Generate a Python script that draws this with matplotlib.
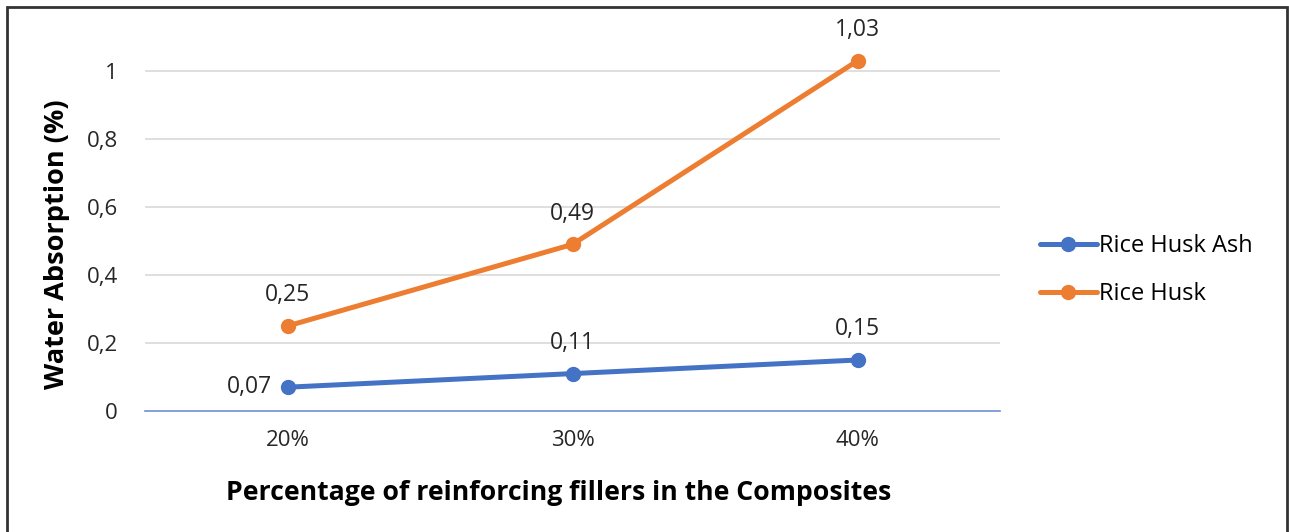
import numpy as np
import matplotlib
matplotlib.use("Agg")
from matplotlib import pyplot as plt
from matplotlib.patches import Rectangle

# data
categories = ["20%", "30%", "40%"]
rice_husk_ash = [0.07, 0.11, 0.15]
rice_husk = [0.25, 0.49, 1.03]
y_ticks = [0, 0.2, 0.4, 0.6, 0.8, 1.0]
y_tick_labels = ["0", "0,2", "0,4", "0,6", "0,8", "1"]

plt.rcParams['font.family'] = ['Open Sans', 'DejaVu Sans']

blue = '#4472C4'
orange = '#ED7D31'
txt = '#262626'

fig = plt.figure(figsize=(12.89, 5.32), dpi=100)
ax = fig.add_axes([145/1289, 1 - 411/532, 855/1289, 340/532 * 1.05])

x = np.arange(len(categories))
ax.plot(x, rice_husk_ash, color=blue, lw=3.6, marker='o', ms=10,
        solid_capstyle='round', label='Rice Husk Ash', clip_on=False, zorder=3)
ax.plot(x, rice_husk, color=orange, lw=3.6, marker='o', ms=10,
        solid_capstyle='round', label='Rice Husk', clip_on=False, zorder=3)

def fmt(v):
    return ("%.2f" % v).replace('.', ',')

for i, v in enumerate(rice_husk):
    ax.annotate(fmt(v), (x[i], v), xytext=(0, 22), textcoords='offset points',
                ha='center', va='center', fontsize=16.5, color=txt)
for i, v in enumerate(rice_husk_ash):
    if i == 0:
        ax.annotate(fmt(v), (x[i], v), xytext=(-11, 0), textcoords='offset points',
                    ha='right', va='center', fontsize=16.5, color=txt)
    else:
        ax.annotate(fmt(v), (x[i], v), xytext=(0, 22), textcoords='offset points',
                    ha='center', va='center', fontsize=16.5, color=txt)

ax.set_xlim(-0.5, 2.5)
ax.set_ylim(0, 1.05)
ax.set_xticks(x)
ax.set_xticklabels(categories, fontsize=16, color=txt)
ax.set_yticks(y_ticks)
ax.set_yticklabels(y_tick_labels, fontsize=16, color=txt)
ax.tick_params(length=0)
ax.tick_params(axis='x', pad=14)
ax.tick_params(axis='y', pad=19.5)
for yv in y_ticks[1:]:
    ax.axhline(yv, color='#D9D9D9', lw=1.2, zorder=1)
for s in ['top', 'right', 'left']:
    ax.spines[s].set_visible(False)
ax.spines['bottom'].set_color('#6f8fd0')
ax.spines['bottom'].set_linewidth(1.2)

ax.set_xlabel('Percentage of reinforcing fillers in the Composites',
              fontsize=19.2, fontweight='bold', va='center')
ax.xaxis.set_label_coords((559 - 145) / 855, (411 - 493) / 357)
ax.set_ylabel('Water Absorption (%)', fontsize=19.5, fontweight='bold', va='center')
ax.yaxis.set_label_coords((57 - 145) / 855, (411 - 244) / 357)

ax.legend(loc='center left', bbox_to_anchor=(1.022, 0.395), frameon=False,
          fontsize=17, handlelength=2.4, handletextpad=0.1, labelspacing=1.0)

fig.patches.append(Rectangle((7/1289, -0.1), 1280/1289, 1.1 - 7/532,
                             transform=fig.transFigure, fill=False,
                             edgecolor='#333333', lw=2))

fig.savefig('out.png', dpi=100)
